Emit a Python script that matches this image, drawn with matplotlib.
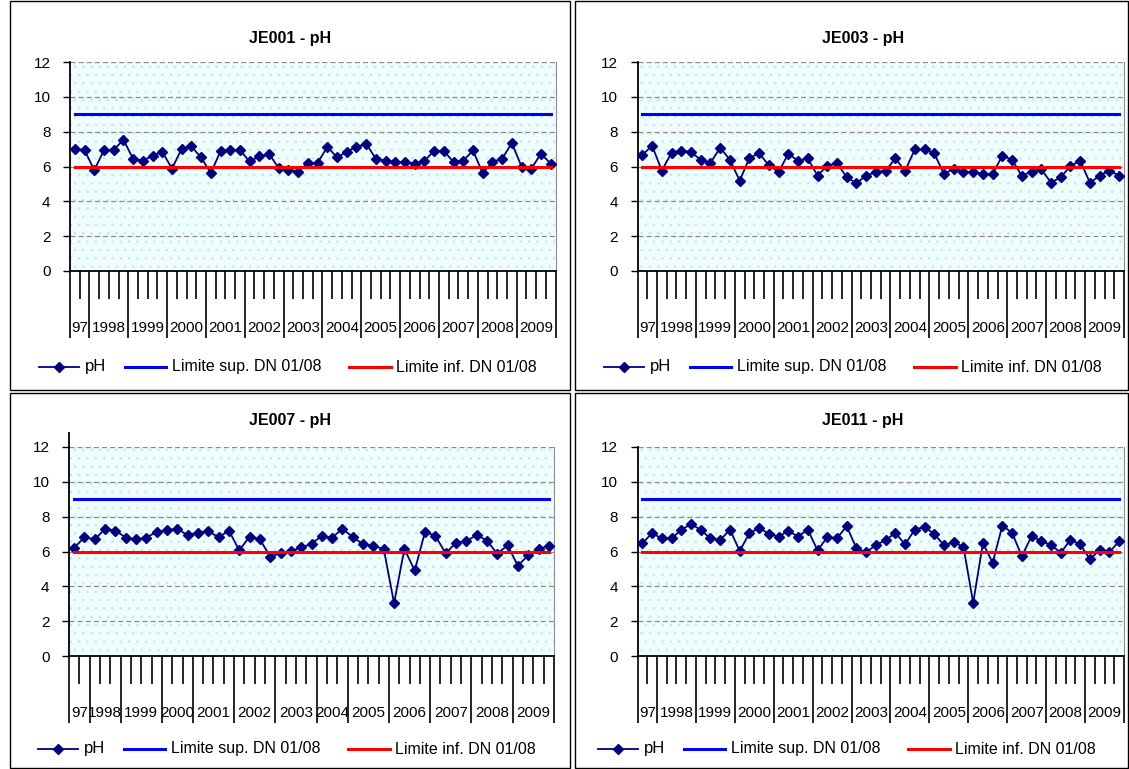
import numpy as np
import matplotlib
matplotlib.use("Agg")
import matplotlib.pyplot as plt
from matplotlib.lines import Line2D
from matplotlib.patches import Rectangle

plt.rcParams['font.family'] = ['Liberation Sans', 'DejaVu Sans']
plt.rcParams['hatch.linewidth'] = 0.6

# pH series (quarterly samples)
ph_je001 = [7.02, 6.94, 5.79, 6.94, 6.94, 7.54, 6.44, 6.33, 6.62, 6.85,
            5.88, 7.02, 7.15, 6.52, 5.62, 6.88, 6.94, 6.94, 6.29, 6.58,
            6.73, 5.90, 5.81, 5.71, 6.20, 6.21, 7.13, 6.52, 6.85, 7.13,
            7.31, 6.44, 6.33, 6.25, 6.25, 6.17, 6.33, 6.90, 6.90, 6.25,
            6.33, 6.92, 5.62, 6.27, 6.44, 7.35, 6.00, 5.87, 6.73, 6.17]
ph_je003 = [6.67, 7.19, 5.77, 6.79, 6.90, 6.83, 6.38, 6.21, 7.08, 6.38,
            5.19, 6.48, 6.77, 6.06, 5.69, 6.73, 6.33, 6.46, 5.48, 6.04,
            6.21, 5.38, 5.04, 5.48, 5.68, 5.76, 6.46, 5.75, 6.98, 6.98,
            6.75, 5.56, 5.88, 5.69, 5.69, 5.56, 5.56, 6.63, 6.38, 5.46,
            5.71, 5.83, 5.08, 5.38, 6.04, 6.33, 5.06, 5.48, 5.77, 5.46]
ph_je007 = [6.21, 6.82, 6.69, 7.31, 7.20, 6.80, 6.69, 6.80, 7.12, 7.22,
            7.31, 6.93, 7.09, 7.16, 6.82, 7.20, 6.06, 6.86, 6.69, 5.71,
            5.90, 6.02, 6.23, 6.44, 6.90, 6.80, 7.31, 6.82, 6.42, 6.32,
            6.15, 3.03, 6.15, 4.91, 7.12, 6.91, 5.89, 6.51, 6.59, 6.95,
            6.63, 5.87, 6.36, 5.18, 5.79, 6.15, 6.32]
ph_je011 = [6.48, 7.05, 6.75, 6.75, 7.24, 7.58, 7.24, 6.75, 6.65, 7.26,
            6.03, 7.05, 7.36, 7.01, 6.86, 7.18, 6.86, 7.26, 6.07, 6.81,
            6.77, 7.45, 6.18, 5.95, 6.37, 6.65, 7.07, 6.41, 7.26, 7.41,
            7.00, 6.37, 6.52, 6.27, 3.05, 6.48, 5.36, 7.49, 7.07, 5.73,
            6.88, 6.60, 6.37, 5.93, 6.67, 6.41, 5.55, 6.09, 5.97, 6.58]

# year groups on the category axis
years = ['97', '1998', '1999', '2000', '2001', '2002', '2003',
         '2004', '2005', '2006', '2007', '2008', '2009']
counts_full = [2, 4, 4, 4, 4, 4, 4, 4, 4, 4, 4, 4, 4]
counts_je007 = [2, 3, 4, 3, 4, 4, 4, 3, 4, 4, 4, 4, 4]

limit_sup = 9
limit_inf = 6
series_names = ['pH', 'Limite sup. DN 01/08', 'Limite inf. DN 01/08']

W, H = 1129, 769
fig = plt.figure(figsize=(W / 100, H / 100), dpi=100)


def fx(x):
    return x / W


def fy(y):
    return 1 - y / H


panels = [
    dict(title='JE001 - pH', ph=ph_je001, counts=counts_full,
         box=(10, 1, 570, 390), area=(70, 62, 555.5, 271), tx=290, ty=38, ly=367, lx=39),
    dict(title='JE003 - pH', ph=ph_je003, counts=counts_full,
         box=(575, 1, 1128, 390), area=(637.5, 62, 1124, 271), tx=863, ty=38, ly=367, lx=604),
    dict(title='JE007 - pH', ph=ph_je007, counts=counts_je007,
         box=(10, 393, 570, 768), area=(69, 447, 554, 656), tx=290, ty=421, ly=749, lx=38),
    dict(title='JE011 - pH', ph=ph_je011, counts=counts_full,
         box=(575, 393, 1128, 768), area=(637.5, 447, 1124, 656), tx=863, ty=421, ly=749, lx=598),
]

navy = '#000080'
for p in panels:
    # chart frame
    x0, y0, x1, y1 = p['box']
    fig.add_artist(Rectangle((fx(x0), fy(y1)), fx(x1) - fx(x0), fy(y0) - fy(y1),
                             transform=fig.transFigure, fill=False, ec='black', lw=1))
    fig.text(fx(p['tx']), fy(p['ty']), p['title'], ha='center', va='center',
             fontsize=11.5, fontweight='bold')

    a0, b0, a1, b1 = p['area']
    ax = fig.add_axes([fx(a0), fy(b1), fx(a1) - fx(a0), fy(b0) - fy(b1)])
    n = len(p['ph'])
    xs = np.arange(n) + 0.5
    ax.set_xlim(0, n)
    ax.set_ylim(0, 12)

    # dotted light cyan plot area
    ax.set_facecolor('white')
    ax.add_patch(Rectangle((0, 0), 1, 1, transform=ax.transAxes, facecolor='#f1fcfc',
                           hatch='..', edgecolor='#b5eef0', lw=0, zorder=0))
    for g in range(2, 13, 2):
        ax.axhline(g, color='#8c8c8c', lw=0.9, ls=(0, (4, 2.5)), zorder=1)

    ax.plot(xs, p['ph'], color=navy, lw=1.3, marker='D', markersize=5.5,
            markerfacecolor=navy, markeredgecolor=navy, zorder=3)
    ax.plot([xs[0], xs[-1]], [limit_sup, limit_sup], color='#0000ff', lw=2.2, zorder=4)
    ax.plot([xs[0], xs[-1]], [limit_inf, limit_inf], color='#ff0000', lw=2.2, zorder=4)

    ax.spines['top'].set_visible(False)
    ax.spines['right'].set_color('#8c8c8c')
    ax.spines['left'].set_linewidth(1.3)
    ax.spines['bottom'].set_linewidth(1.3)

    ax.set_yticks(range(0, 13, 2))
    ax.tick_params(axis='y', length=5, width=1, pad=9, labelsize=11)

    bounds = np.concatenate([[0], np.cumsum(p['counts'])])
    ax.set_xticks(bounds)
    ax.set_xticklabels([])
    ax.set_xticks(np.arange(n + 1), minor=True)
    ax.tick_params(axis='x', which='major', length=48, width=1.2, direction='out')
    ax.tick_params(axis='x', which='minor', length=20, width=1.2, direction='out')
    hpx = b1 - b0
    for lab, lo, hi in zip(years, bounds[:-1], bounds[1:]):
        ax.text((lo + hi) / 2, -57 / hpx, lab, transform=ax.get_xaxis_transform(),
                ha='center', va='center', fontsize=11)

    if p['title'] == 'JE007 - pH':
        ax.plot([0, 0], [12, 12.8], color='black', lw=1.3, clip_on=False)

    # legend
    lx, ly = p['lx'], p['ly']
    fig.add_artist(Line2D([fx(lx), fx(lx + 40)], [fy(ly), fy(ly)], color=navy, lw=1.3,
                          transform=fig.transFigure))
    fig.add_artist(Line2D([fx(lx + 20)], [fy(ly)], color=navy, marker='D', markersize=5.5,
                          transform=fig.transFigure))
    fig.text(fx(lx + 46), fy(ly), series_names[0], va='center', fontsize=12)
    fig.add_artist(Line2D([fx(lx + 86), fx(lx + 127)], [fy(ly), fy(ly)], color='#0000ff',
                          lw=2.2, transform=fig.transFigure))
    fig.text(fx(lx + 133), fy(ly), series_names[1], va='center', fontsize=11.5)
    fig.add_artist(Line2D([fx(lx + 310), fx(lx + 352)], [fy(ly), fy(ly)], color='#ff0000',
                          lw=2.2, transform=fig.transFigure))
    fig.text(fx(lx + 357), fy(ly), series_names[2], va='center', fontsize=11.5)

fig.savefig('out.png', dpi=100)
